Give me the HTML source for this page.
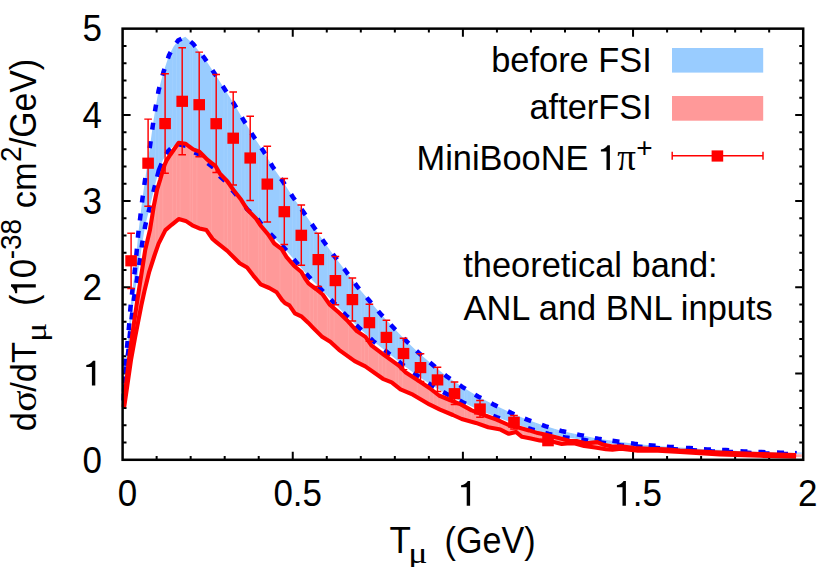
<!DOCTYPE html>
<html><head><meta charset="utf-8"><title>plot</title>
<style>html,body{margin:0;padding:0;background:#fff;}body{width:830px;height:567px;position:relative;overflow:hidden;font-family:"Liberation Sans",sans-serif;}</style>
</head><body>
<svg width="830" height="567" viewBox="0 0 830 567" style="position:absolute;left:0;top:0">
<path d="M156.63 459.8v-3.9M156.63 28.65v3.9M190.66 459.8v-3.9M190.66 28.65v3.9M224.69 459.8v-3.9M224.69 28.65v3.9M258.72 459.8v-3.9M258.72 28.65v3.9M292.75 459.8v-8.0M292.75 28.65v8.0M326.78 459.8v-3.9M326.78 28.65v3.9M360.81 459.8v-3.9M360.81 28.65v3.9M394.84 459.8v-3.9M394.84 28.65v3.9M428.87 459.8v-3.9M428.87 28.65v3.9M462.90 459.8v-8.0M462.90 28.65v8.0M496.93 459.8v-3.9M496.93 28.65v3.9M530.96 459.8v-3.9M530.96 28.65v3.9M564.99 459.8v-3.9M564.99 28.65v3.9M599.02 459.8v-3.9M599.02 28.65v3.9M633.05 459.8v-8.0M633.05 28.65v8.0M667.08 459.8v-3.9M667.08 28.65v3.9M701.11 459.8v-3.9M701.11 28.65v3.9M735.14 459.8v-3.9M735.14 28.65v3.9M769.17 459.8v-3.9M769.17 28.65v3.9M122.6 442.55h3.9M803.2 442.55h-3.9M122.6 425.31h3.9M803.2 425.31h-3.9M122.6 408.06h3.9M803.2 408.06h-3.9M122.6 390.82h3.9M803.2 390.82h-3.9M122.6 373.57h8.0M803.2 373.57h-8.0M122.6 356.32h3.9M803.2 356.32h-3.9M122.6 339.08h3.9M803.2 339.08h-3.9M122.6 321.83h3.9M803.2 321.83h-3.9M122.6 304.59h3.9M803.2 304.59h-3.9M122.6 287.34h8.0M803.2 287.34h-8.0M122.6 270.09h3.9M803.2 270.09h-3.9M122.6 252.85h3.9M803.2 252.85h-3.9M122.6 235.60h3.9M803.2 235.60h-3.9M122.6 218.36h3.9M803.2 218.36h-3.9M122.6 201.11h8.0M803.2 201.11h-8.0M122.6 183.86h3.9M803.2 183.86h-3.9M122.6 166.62h3.9M803.2 166.62h-3.9M122.6 149.37h3.9M803.2 149.37h-3.9M122.6 132.13h3.9M803.2 132.13h-3.9M122.6 114.88h8.0M803.2 114.88h-8.0M122.6 97.63h3.9M803.2 97.63h-3.9M122.6 80.39h3.9M803.2 80.39h-3.9M122.6 63.14h3.9M803.2 63.14h-3.9M122.6 45.90h3.9M803.2 45.90h-3.9" stroke="#000" stroke-width="2.0" fill="none"/>
<polygon points="123.3,407.0 123.7,397.0 124.3,380.0 125.5,362.3 127.3,344.4 129.0,326.7 130.4,308.3 132.3,291.2 134.8,270.9 136.6,252.3 138.2,234.3 140.3,217.0 142.4,199.1 144.8,181.5 147.6,162.6 150.2,144.7 152.7,126.2 155.5,108.0 158.6,90.5 163.4,72.3 169.0,55.2 173.5,46.8 178.4,40.2 185.3,36.8 193.2,43.9 204.7,58.4 214.3,73.1 224.6,88.9 234.5,104.7 243.7,120.3 253.3,136.1 263.3,150.9 272.5,166.5 282.9,181.5 293.0,197.2 303.5,212.1 313.8,227.0 324.3,242.3 334.9,256.9 346.1,271.5 357.0,286.2 369.0,300.3 380.5,313.8 393.1,327.3 406.2,340.9 419.1,353.2 432.6,364.7 447.4,376.9 462.6,387.1 478.0,396.5 494.4,404.9 511.1,412.9 527.9,419.9 545.2,426.1 562.7,431.3 580.5,435.1 598.2,438.8 615.9,441.3 634.4,443.8 652.1,445.5 670.3,446.9 689.4,448.1 707.4,449.4 725.6,450.1 743.9,451.4 761.9,452.1 780.5,452.7 796.1,453.1 796.1,454.2 784.5,453.9 766.0,453.4 748.0,452.8 729.5,451.9 711.5,451.3 693.5,450.3 674.5,449.2 656.5,448.0 639.0,446.8 620.5,445.3 602.5,442.8 584.7,440.1 566.1,437.6 548.7,433.9 531.3,429.2 514.0,423.4 496.5,417.1 479.6,410.2 462.8,402.2 446.2,393.8 431.4,385.0 416.4,374.9 401.4,363.8 387.3,352.3 373.0,340.9 358.9,327.6 345.7,315.1 333.2,302.0 320.8,289.1 308.5,276.3 296.0,261.9 284.2,247.9 268.1,231.5 261.0,223.6 256.0,216.8 247.3,209.4 241.2,200.4 233.5,191.6 227.3,183.2 220.2,176.5 215.5,168.9 211.7,166.3 207.0,162.6 202.9,158.1 199.4,154.5 193.2,152.0 188.8,148.6 185.7,145.8 178.5,144.2 173.0,146.5 168.1,151.1 163.0,160.0 158.8,170.3 154.2,188.6 149.3,209.0 145.2,225.7 142.1,244.0 139.7,261.6 137.0,279.5 134.1,297.5 131.9,316.0 129.8,334.8 128.2,352.4 125.6,370.0 124.2,388.0 123.3,407.0" fill="#99ccff"/>
<polygon points="123.6,407.0 126.0,385.0 128.9,360.0 131.8,338.0 136.6,305.0 145.2,250.0 150.0,229.7 154.0,205.0 157.0,190.0 160.1,180.0 162.3,172.3 164.6,164.8 166.8,160.0 170.3,154.7 174.3,149.0 178.7,142.8 185.7,143.7 188.8,146.3 193.2,149.4 199.4,151.6 202.9,155.1 207.0,159.4 211.7,163.1 215.5,166.0 220.2,174.0 227.3,181.2 233.5,190.0 241.2,199.8 247.3,209.6 256.0,218.5 261.0,226.0 268.1,234.3 274.3,243.5 281.7,249.1 286.6,257.1 294.0,265.7 301.4,272.0 304.8,278.0 308.5,283.4 315.9,289.0 322.7,294.5 329.5,304.4 339.4,313.0 348.0,321.3 356.8,331.1 365.5,336.9 371.7,345.7 382.9,354.1 398.8,365.6 405.8,372.6 418.2,380.5 429.4,388.0 439.0,395.5 449.8,400.0 460.8,404.4 471.7,410.4 485.8,415.8 496.6,419.6 507.5,424.5 520.3,428.0 529.1,430.4 537.9,433.1 545.9,434.8 554.7,437.0 563.5,439.2 570.0,441.0 576.6,441.0 586.4,443.4 597.2,442.1 603.8,444.8 612.4,446.5 620.9,446.3 634.4,448.1 649.6,448.9 664.8,449.2 680.0,450.6 700.0,451.5 720.0,452.6 760.0,454.0 796.1,455.0 796.1,456.7 760.0,455.8 720.0,454.4 680.0,451.9 658.0,450.6 637.8,450.6 620.9,448.7 612.4,449.7 605.9,449.2 595.1,447.5 584.2,445.9 575.0,443.4 570.0,443.3 561.7,444.0 552.9,441.8 539.7,440.4 530.9,438.6 522.0,436.8 515.9,431.9 508.8,433.8 500.5,429.6 488.2,427.3 475.9,422.9 461.7,419.0 452.9,415.0 440.0,409.7 429.4,404.4 412.9,394.7 400.5,389.4 391.7,382.3 382.9,378.8 365.3,366.4 354.7,361.1 339.0,349.8 330.3,341.8 321.7,336.4 312.9,327.6 308.2,322.7 301.8,316.7 294.9,313.3 289.4,305.4 285.0,303.2 282.0,300.0 276.7,292.3 269.3,288.0 260.7,284.3 253.3,275.6 247.1,267.6 239.7,263.3 227.3,250.9 216.0,241.8 212.6,239.0 206.4,230.1 199.4,228.4 192.3,225.3 185.7,220.9 178.7,219.1 171.6,224.8 165.4,230.1 158.6,243.6 154.3,256.0 149.2,271.8 144.4,291.2 141.4,305.0 135.0,338.0 131.0,360.0 127.4,385.0 124.2,407.0" fill="#ff9999"/>
<clipPath id="cf"><polygon points="123.3,407.0 123.7,397.0 124.3,380.0 125.5,362.3 127.3,344.4 129.0,326.7 130.4,308.3 132.3,291.2 134.8,270.9 136.6,252.3 138.2,234.3 140.3,217.0 142.4,199.1 144.8,181.5 147.6,162.6 150.2,144.7 152.7,126.2 155.5,108.0 158.6,90.5 163.4,72.3 169.0,55.2 173.5,46.8 178.4,40.2 185.3,36.8 193.2,43.9 204.7,58.4 214.3,73.1 224.6,88.9 234.5,104.7 243.7,120.3 253.3,136.1 263.3,150.9 272.5,166.5 282.9,181.5 293.0,197.2 303.5,212.1 313.8,227.0 324.3,242.3 334.9,256.9 346.1,271.5 357.0,286.2 369.0,300.3 380.5,313.8 393.1,327.3 406.2,340.9 419.1,353.2 432.6,364.7 447.4,376.9 462.6,387.1 478.0,396.5 494.4,404.9 511.1,412.9 527.9,419.9 545.2,426.1 562.7,431.3 580.5,435.1 598.2,438.8 615.9,441.3 634.4,443.8 652.1,445.5 670.3,446.9 689.4,448.1 707.4,449.4 725.6,450.1 743.9,451.4 761.9,452.1 780.5,452.7 796.1,453.1 796.1,454.2 784.5,453.9 766.0,453.4 748.0,452.8 729.5,451.9 711.5,451.3 693.5,450.3 674.5,449.2 656.5,448.0 639.0,446.8 620.5,445.3 602.5,442.8 584.7,440.1 566.1,437.6 548.7,433.9 531.3,429.2 514.0,423.4 496.5,417.1 479.6,410.2 462.8,402.2 446.2,393.8 431.4,385.0 416.4,374.9 401.4,363.8 387.3,352.3 373.0,340.9 358.9,327.6 345.7,315.1 333.2,302.0 320.8,289.1 308.5,276.3 296.0,261.9 284.2,247.9 268.1,231.5 261.0,223.6 256.0,216.8 247.3,209.4 241.2,200.4 233.5,191.6 227.3,183.2 220.2,176.5 215.5,168.9 211.7,166.3 207.0,162.6 202.9,158.1 199.4,154.5 193.2,152.0 188.8,148.6 185.7,145.8 178.5,144.2 173.0,146.5 168.1,151.1 163.0,160.0 158.8,170.3 154.2,188.6 149.3,209.0 145.2,225.7 142.1,244.0 139.7,261.6 137.0,279.5 134.1,297.5 131.9,316.0 129.8,334.8 128.2,352.4 125.6,370.0 124.2,388.0 123.3,407.0"/><polygon points="123.6,407.0 126.0,385.0 128.9,360.0 131.8,338.0 136.6,305.0 145.2,250.0 150.0,229.7 154.0,205.0 157.0,190.0 160.1,180.0 162.3,172.3 164.6,164.8 166.8,160.0 170.3,154.7 174.3,149.0 178.7,142.8 185.7,143.7 188.8,146.3 193.2,149.4 199.4,151.6 202.9,155.1 207.0,159.4 211.7,163.1 215.5,166.0 220.2,174.0 227.3,181.2 233.5,190.0 241.2,199.8 247.3,209.6 256.0,218.5 261.0,226.0 268.1,234.3 274.3,243.5 281.7,249.1 286.6,257.1 294.0,265.7 301.4,272.0 304.8,278.0 308.5,283.4 315.9,289.0 322.7,294.5 329.5,304.4 339.4,313.0 348.0,321.3 356.8,331.1 365.5,336.9 371.7,345.7 382.9,354.1 398.8,365.6 405.8,372.6 418.2,380.5 429.4,388.0 439.0,395.5 449.8,400.0 460.8,404.4 471.7,410.4 485.8,415.8 496.6,419.6 507.5,424.5 520.3,428.0 529.1,430.4 537.9,433.1 545.9,434.8 554.7,437.0 563.5,439.2 570.0,441.0 576.6,441.0 586.4,443.4 597.2,442.1 603.8,444.8 612.4,446.5 620.9,446.3 634.4,448.1 649.6,448.9 664.8,449.2 680.0,450.6 700.0,451.5 720.0,452.6 760.0,454.0 796.1,455.0 796.1,456.7 760.0,455.8 720.0,454.4 680.0,451.9 658.0,450.6 637.8,450.6 620.9,448.7 612.4,449.7 605.9,449.2 595.1,447.5 584.2,445.9 575.0,443.4 570.0,443.3 561.7,444.0 552.9,441.8 539.7,440.4 530.9,438.6 522.0,436.8 515.9,431.9 508.8,433.8 500.5,429.6 488.2,427.3 475.9,422.9 461.7,419.0 452.9,415.0 440.0,409.7 429.4,404.4 412.9,394.7 400.5,389.4 391.7,382.3 382.9,378.8 365.3,366.4 354.7,361.1 339.0,349.8 330.3,341.8 321.7,336.4 312.9,327.6 308.2,322.7 301.8,316.7 294.9,313.3 289.4,305.4 285.0,303.2 282.0,300.0 276.7,292.3 269.3,288.0 260.7,284.3 253.3,275.6 247.1,267.6 239.7,263.3 227.3,250.9 216.0,241.8 212.6,239.0 206.4,230.1 199.4,228.4 192.3,225.3 185.7,220.9 178.7,219.1 171.6,224.8 165.4,230.1 158.6,243.6 154.3,256.0 149.2,271.8 144.4,291.2 141.4,305.0 135.0,338.0 131.0,360.0 127.4,385.0 124.2,407.0"/></clipPath>
<path d="M128.3 30V460M142.8 30V460M155.4 30V460M158.9 30V460M162.8 30V460M172.7 30V460M176.4 30V460M180.1 30V460M190.1 30V460M192.6 30V460M196.9 30V460M211.4 30V460M224.0 30V460M227.5 30V460M231.4 30V460M241.3 30V460M245.0 30V460M248.7 30V460M258.7 30V460M261.2 30V460M265.5 30V460M280.0 30V460M292.6 30V460M296.1 30V460M300.0 30V460M309.9 30V460M313.6 30V460M317.3 30V460M327.3 30V460M329.8 30V460M334.1 30V460M348.6 30V460M361.2 30V460M364.7 30V460M368.6 30V460M378.5 30V460M382.2 30V460M385.9 30V460M395.9 30V460M398.4 30V460M402.7 30V460M417.2 30V460M429.8 30V460M433.3 30V460M437.2 30V460M447.1 30V460M450.8 30V460M454.5 30V460M464.5 30V460M467.0 30V460M471.3 30V460M485.8 30V460M498.4 30V460M501.9 30V460M505.8 30V460M515.7 30V460M519.4 30V460M523.1 30V460M533.1 30V460M535.6 30V460M539.9 30V460M554.4 30V460M567.0 30V460M570.5 30V460M574.4 30V460M584.3 30V460M588.0 30V460M591.7 30V460M601.7 30V460M604.2 30V460M608.5 30V460M623.0 30V460M635.6 30V460M639.1 30V460M643.0 30V460M652.9 30V460M656.6 30V460M660.3 30V460M670.3 30V460M672.8 30V460M677.1 30V460M691.6 30V460" stroke="#fff" stroke-width="1" opacity="0.09" fill="none" clip-path="url(#cf)"/>
<rect x="672" y="48" width="91.2" height="24.6" fill="#99ccff"/>
<rect x="672" y="96" width="91.2" height="24.7" fill="#ff9999"/>
<rect x="796" y="452.3" width="5.8" height="2" fill="#b3d9ff"/><rect x="796" y="454.3" width="5.8" height="2.8" fill="#ffaaaa"/><rect x="795" y="450.9" width="1.8" height="2.6" fill="#0000ff"/>
<polyline points="123.3,407.0 123.7,397.0 124.3,380.0 125.5,362.3 127.3,344.4 129.0,326.7 130.4,308.3 132.3,291.2 134.8,270.9 136.6,252.3 138.2,234.3 140.3,217.0 142.4,199.1 144.8,181.5 147.6,162.6 150.2,144.7 152.7,126.2 155.5,108.0 158.6,90.5 163.4,72.3 169.0,55.2 173.5,46.8 178.4,40.2 185.3,36.8 193.2,43.9 204.7,58.4 214.3,73.1 224.6,88.9 234.5,104.7 243.7,120.3 253.3,136.1 263.3,150.9 272.5,166.5 282.9,181.5 293.0,197.2 303.5,212.1 313.8,227.0 324.3,242.3 334.9,256.9 346.1,271.5 357.0,286.2 369.0,300.3 380.5,313.8 393.1,327.3 406.2,340.9 419.1,353.2 432.6,364.7 447.4,376.9 462.6,387.1 478.0,396.5 494.4,404.9 511.1,412.9 527.9,419.9 545.2,426.1 562.7,431.3 580.5,435.1 598.2,438.8 615.9,441.3 634.4,443.8 652.1,445.5 670.3,446.9 689.4,448.1 707.4,449.4 725.6,450.1 743.9,451.4 761.9,452.1 780.5,452.7 796.1,453.1" stroke="#0000ff" stroke-width="4.5" fill="none" stroke-linejoin="round" stroke-dasharray="0 6.51 7.00 10.01 7.00 10.74 7.00 10.99 7.00 10.78 7.00 11.45 7.00 10.21 7.00 13.45 7.00 11.69 7.00 11.07 7.00 10.43 7.00 11.02 7.00 10.76 7.00 12.11 7.00 11.09 7.00 11.67 7.00 11.41 7.00 10.77 7.00 11.82 7.00 10.99 7.00 10.75 7.00 11.31 7.00 11.51 7.00 10.56 7.00 11.86 7.00 11.65 7.00 11.11 7.00 11.49 7.00 10.86 7.00 11.11 7.00 11.25 7.00 11.67 7.00 11.23 7.00 11.11 7.00 11.56 7.00 11.04 7.00 11.40 7.00 11.30 7.00 11.52 7.00 10.73 7.00 11.47 7.00 11.88 7.00 10.82 7.00 10.73 7.00 12.18 7.00 11.31 7.00 11.04 7.00 11.43 7.00 11.52 7.00 11.20 7.00 11.38 7.00 11.26 7.00 11.20 7.00 11.08 7.00 10.88 7.00 11.67 7.00 10.78 7.00 11.25 7.00 12.14 7.00 11.05 7.00 11.21 7.00 11.35 7.00 11.01 7.00 11.61 7.00 5000.00 0.00"/>
<polyline points="123.3,407.0 124.2,388.0 125.6,370.0 128.2,352.4 129.8,334.8 131.9,316.0 134.1,297.5 137.0,279.5 139.7,261.6 142.1,244.0 145.2,225.7 149.3,209.0 154.2,188.6 158.8,170.3 163.0,160.0 168.1,151.1 173.0,146.5 178.5,144.2 185.7,145.8 188.8,148.6 193.2,152.0 199.4,154.5 202.9,158.1 207.0,162.6 211.7,166.3 215.5,168.9 220.2,176.5 227.3,183.2 233.5,191.6 241.2,200.4 247.3,209.4 256.0,216.8 261.0,223.6 268.1,231.5 284.2,247.9 296.0,261.9 308.5,276.3 320.8,289.1 333.2,302.0 345.7,315.1 358.9,327.6 373.0,340.9 387.3,352.3 401.4,363.8 416.4,374.9 431.4,385.0 446.2,393.8 462.8,402.2 479.6,410.2 496.5,417.1 514.0,423.4 531.3,429.2 548.7,433.9 566.1,437.6 584.7,440.1 602.5,442.8 620.5,445.3 639.0,446.8 656.5,448.0 674.5,449.2 693.5,450.3 711.5,451.3 729.5,451.9 748.0,452.8 766.0,453.4 784.5,453.9 796.1,454.2" stroke="#0000ff" stroke-width="4.5" fill="none" stroke-linejoin="round" stroke-dasharray="0 15.52 7.00 11.05 7.00 10.79 7.00 10.67 7.00 11.92 7.00 11.63 7.00 11.23 7.00 11.10 7.00 10.76 7.00 11.56 7.00 10.20 7.00 13.98 7.00 8.69 7.00 0.01 7.00 10.55 7.00 9.51 7.00 11.04 7.00 10.52 7.00 11.08 7.00 11.44 7.00 14.79 7.00 9.92 7.00 12.79 7.00 9.25 7.00 11.31 7.00 12.07 7.00 10.75 7.00 10.89 7.00 11.11 7.00 11.18 7.00 12.38 7.00 11.29 7.00 11.20 7.00 11.66 7.00 11.08 7.00 10.22 7.00 11.60 7.00 11.61 7.00 11.25 7.00 11.60 7.00 11.25 7.00 11.02 7.00 10.79 7.00 11.77 7.00 11.00 7.00 11.17 7.00 11.56 7.00 10.54 7.00 11.04 7.00 12.03 7.00 11.03 7.00 11.01 7.00 11.52 7.00 11.01 7.00 11.51 7.00 5000.00 0.00"/>
<polyline points="123.6,407.0 126.0,385.0 128.9,360.0 131.8,338.0 136.6,305.0 145.2,250.0 150.0,229.7 154.0,205.0 157.0,190.0 160.1,180.0 162.3,172.3 164.6,164.8 166.8,160.0 170.3,154.7 174.3,149.0 178.7,142.8 185.7,143.7 188.8,146.3 193.2,149.4 199.4,151.6 202.9,155.1 207.0,159.4 211.7,163.1 215.5,166.0 220.2,174.0 227.3,181.2 233.5,190.0 241.2,199.8 247.3,209.6 256.0,218.5 261.0,226.0 268.1,234.3 274.3,243.5 281.7,249.1 286.6,257.1 294.0,265.7 301.4,272.0 304.8,278.0 308.5,283.4 315.9,289.0 322.7,294.5 329.5,304.4 339.4,313.0 348.0,321.3 356.8,331.1 365.5,336.9 371.7,345.7 382.9,354.1 398.8,365.6 405.8,372.6 418.2,380.5 429.4,388.0 439.0,395.5 449.8,400.0 460.8,404.4 471.7,410.4 485.8,415.8 496.6,419.6 507.5,424.5 520.3,428.0 529.1,430.4 537.9,433.1 545.9,434.8 554.7,437.0 563.5,439.2 570.0,441.0 576.6,441.0 586.4,443.4 597.2,442.1 603.8,444.8 612.4,446.5 620.9,446.3 634.4,448.1 649.6,448.9 664.8,449.2 680.0,450.6 700.0,451.5 720.0,452.6 760.0,454.0 796.1,455.0" stroke="#ff0000" stroke-width="4.1" fill="none" stroke-linejoin="round" stroke-linecap="butt"/>
<polyline points="124.2,407.0 127.4,385.0 131.0,360.0 135.0,338.0 141.4,305.0 144.4,291.2 149.2,271.8 154.3,256.0 158.6,243.6 165.4,230.1 171.6,224.8 178.7,219.1 185.7,220.9 192.3,225.3 199.4,228.4 206.4,230.1 212.6,239.0 216.0,241.8 227.3,250.9 239.7,263.3 247.1,267.6 253.3,275.6 260.7,284.3 269.3,288.0 276.7,292.3 282.0,300.0 285.0,303.2 289.4,305.4 294.9,313.3 301.8,316.7 308.2,322.7 312.9,327.6 321.7,336.4 330.3,341.8 339.0,349.8 354.7,361.1 365.3,366.4 382.9,378.8 391.7,382.3 400.5,389.4 412.9,394.7 429.4,404.4 440.0,409.7 452.9,415.0 461.7,419.0 475.9,422.9 488.2,427.3 500.5,429.6 508.8,433.8 515.9,431.9 522.0,436.8 530.9,438.6 539.7,440.4 552.9,441.8 561.7,444.0 570.0,443.3 575.0,443.4 584.2,445.9 595.1,447.5 605.9,449.2 612.4,449.7 620.9,448.7 637.8,450.6 658.0,450.6 680.0,451.9 720.0,454.4 760.0,455.8 796.1,456.7" stroke="#ff0000" stroke-width="4.1" fill="none" stroke-linejoin="round" stroke-linecap="butt"/>
<path d="M131.1 233.3V288.4M127.3 233.3h7.6M127.3 288.4h7.6" stroke="#ff0000" stroke-width="1.45" fill="none"/>
<rect x="125.3" y="255.2" width="11.6" height="11.2" fill="#ff0000"/>
<path d="M148.1 119.1V206.3M144.3 119.1h7.6M144.3 206.3h7.6" stroke="#ff0000" stroke-width="1.45" fill="none"/>
<rect x="142.3" y="157.6" width="11.6" height="11.2" fill="#ff0000"/>
<path d="M165.1 73.8V173.3M161.3 73.8h7.6M161.3 173.3h7.6" stroke="#ff0000" stroke-width="1.45" fill="none"/>
<rect x="159.3" y="118.0" width="11.6" height="11.2" fill="#ff0000"/>
<path d="M182.2 47.8V154.8M178.4 47.8h7.6M178.4 154.8h7.6" stroke="#ff0000" stroke-width="1.45" fill="none"/>
<rect x="176.4" y="95.7" width="11.6" height="11.2" fill="#ff0000"/>
<path d="M199.2 52.1V156.8M195.4 52.1h7.6M195.4 156.8h7.6" stroke="#ff0000" stroke-width="1.45" fill="none"/>
<rect x="193.4" y="99.1" width="11.6" height="11.2" fill="#ff0000"/>
<path d="M216.2 74.5V172.5M212.4 74.5h7.6M212.4 172.5h7.6" stroke="#ff0000" stroke-width="1.45" fill="none"/>
<rect x="210.4" y="118.1" width="11.6" height="11.2" fill="#ff0000"/>
<path d="M233.2 92.0V185.0M229.4 92.0h7.6M229.4 185.0h7.6" stroke="#ff0000" stroke-width="1.45" fill="none"/>
<rect x="227.4" y="132.6" width="11.6" height="11.2" fill="#ff0000"/>
<path d="M250.2 116.2V200.5M246.4 116.2h7.6M246.4 200.5h7.6" stroke="#ff0000" stroke-width="1.45" fill="none"/>
<rect x="244.4" y="152.4" width="11.6" height="11.2" fill="#ff0000"/>
<path d="M267.3 146.2V222.0M263.5 146.2h7.6M263.5 222.0h7.6" stroke="#ff0000" stroke-width="1.45" fill="none"/>
<rect x="261.5" y="178.5" width="11.6" height="11.2" fill="#ff0000"/>
<path d="M284.3 178.4V244.4M280.5 178.4h7.6M280.5 244.4h7.6" stroke="#ff0000" stroke-width="1.45" fill="none"/>
<rect x="278.5" y="206.1" width="11.6" height="11.2" fill="#ff0000"/>
<path d="M301.3 204.9V265.3M297.5 204.9h7.6M297.5 265.3h7.6" stroke="#ff0000" stroke-width="1.45" fill="none"/>
<rect x="295.5" y="229.7" width="11.6" height="11.2" fill="#ff0000"/>
<path d="M318.3 233.2V286.4M314.5 233.2h7.6M314.5 286.4h7.6" stroke="#ff0000" stroke-width="1.45" fill="none"/>
<rect x="312.5" y="254.0" width="11.6" height="11.2" fill="#ff0000"/>
<path d="M335.4 256.5V304.7M331.6 256.5h7.6M331.6 304.7h7.6" stroke="#ff0000" stroke-width="1.45" fill="none"/>
<rect x="329.6" y="275.0" width="11.6" height="11.2" fill="#ff0000"/>
<path d="M352.4 277.9V320.9M348.6 277.9h7.6M348.6 320.9h7.6" stroke="#ff0000" stroke-width="1.45" fill="none"/>
<rect x="346.6" y="294.0" width="11.6" height="11.2" fill="#ff0000"/>
<path d="M369.4 304.3V341.2M365.6 304.3h7.6M365.6 341.2h7.6" stroke="#ff0000" stroke-width="1.45" fill="none"/>
<rect x="363.6" y="317.1" width="11.6" height="11.2" fill="#ff0000"/>
<path d="M386.4 320.2V355.5M382.6 320.2h7.6M382.6 355.5h7.6" stroke="#ff0000" stroke-width="1.45" fill="none"/>
<rect x="380.6" y="331.8" width="11.6" height="11.2" fill="#ff0000"/>
<path d="M403.5 338.2V369.6M399.7 338.2h7.6M399.7 369.6h7.6" stroke="#ff0000" stroke-width="1.45" fill="none"/>
<rect x="397.7" y="347.9" width="11.6" height="11.2" fill="#ff0000"/>
<path d="M420.5 353.7V381.4M416.7 353.7h7.6M416.7 381.4h7.6" stroke="#ff0000" stroke-width="1.45" fill="none"/>
<rect x="414.7" y="362.0" width="11.6" height="11.2" fill="#ff0000"/>
<path d="M437.5 367.3V391.5M433.7 367.3h7.6M433.7 391.5h7.6" stroke="#ff0000" stroke-width="1.45" fill="none"/>
<rect x="431.7" y="374.3" width="11.6" height="11.2" fill="#ff0000"/>
<path d="M454.5 382.0V404.4M450.7 382.0h7.6M450.7 404.4h7.6" stroke="#ff0000" stroke-width="1.45" fill="none"/>
<rect x="448.7" y="388.1" width="11.6" height="11.2" fill="#ff0000"/>
<path d="M480.0 400.5V417.3M476.2 400.5h7.6M476.2 417.3h7.6" stroke="#ff0000" stroke-width="1.45" fill="none"/>
<rect x="474.2" y="403.4" width="11.6" height="11.2" fill="#ff0000"/>
<path d="M514.0 415.5V429.0M510.2 415.5h7.6M510.2 429.0h7.6" stroke="#ff0000" stroke-width="1.45" fill="none"/>
<rect x="508.2" y="416.7" width="11.6" height="11.2" fill="#ff0000"/>
<path d="M548.0 436.5V445.0M544.2 436.5h7.6M544.2 445.0h7.6" stroke="#ff0000" stroke-width="1.45" fill="none"/>
<rect x="542.2" y="435.1" width="11.6" height="11.2" fill="#ff0000"/>
<path d="M672.2 155.8H763M672.2 151.8v8M763 151.8v8" stroke="#ff0000" stroke-width="1.45" fill="none"/>
<rect x="711.6" y="150.4" width="11.6" height="11.2" fill="#ff0000"/>
<rect x="122.6" y="28.65" width="680.60" height="431.15" fill="none" stroke="#000" stroke-width="2.5"/>
<text transform="translate(127.40,505.80) scale(1.0,1.045)" text-anchor="middle" font-family="Liberation Sans, sans-serif" font-size="35" fill="#000">0</text>
<text transform="translate(297.70,505.80) scale(1.0,1.045)" text-anchor="middle" font-family="Liberation Sans, sans-serif" font-size="35" fill="#000">0.5</text>
<path transform="translate(470.10,505.80) scale(1.0)" d="M0 0H-3.4V-18.6H-9V-20.6Q-4.3-21.2 -2.3-24.8H0Z" fill="#000"/>
<path transform="translate(625.90,505.80) scale(1.0)" d="M0 0H-3.4V-18.6H-9V-20.6Q-4.3-21.2 -2.3-24.8H0Z" fill="#000"/>
<text transform="translate(632.70,505.80) scale(1.0,1.045)" text-anchor="start" font-family="Liberation Sans, sans-serif" font-size="35" fill="#000">.5</text>
<text transform="translate(807.70,505.80) scale(1.0,1.045)" text-anchor="middle" font-family="Liberation Sans, sans-serif" font-size="35" fill="#000">2</text>
<text transform="translate(102.00,472.50) scale(1.0,1.045)" text-anchor="end" font-family="Liberation Sans, sans-serif" font-size="35" fill="#000">0</text>
<path transform="translate(95.30,385.57) scale(1.0)" d="M0 0H-3.4V-18.6H-9V-20.6Q-4.3-21.2 -2.3-24.8H0Z" fill="#000"/>
<text transform="translate(102.00,300.04) scale(1.0,1.045)" text-anchor="end" font-family="Liberation Sans, sans-serif" font-size="35" fill="#000">2</text>
<text transform="translate(102.00,213.81) scale(1.0,1.045)" text-anchor="end" font-family="Liberation Sans, sans-serif" font-size="35" fill="#000">3</text>
<text transform="translate(102.00,127.58) scale(1.0,1.045)" text-anchor="end" font-family="Liberation Sans, sans-serif" font-size="35" fill="#000">4</text>
<text transform="translate(102.00,41.35) scale(1.0,1.045)" text-anchor="end" font-family="Liberation Sans, sans-serif" font-size="35" fill="#000">5</text>
<text transform="translate(651.80,71.90) scale(1,1.03)" text-anchor="end" font-family="Liberation Sans, sans-serif" font-size="34.4" fill="#000">before FSI</text>
<text transform="translate(651.80,118.60) scale(1,1.03)" text-anchor="end" font-family="Liberation Sans, sans-serif" font-size="34.4" fill="#000">afterFSI</text>
<text transform="translate(588.50,170.00) scale(1,1.03)" text-anchor="end" font-family="Liberation Sans, sans-serif" font-size="34.4" fill="#000">MiniBooNE</text>
<path transform="translate(609.90,170.00) scale(1.0)" d="M0 0H-3.4V-18.6H-9V-20.6Q-4.3-21.2 -2.3-24.8H0Z" fill="#000"/>
<text transform="translate(617.20,170.40) scale(1,1)" text-anchor="start" font-family="Liberation Serif, serif" font-size="37" fill="#000">π</text>
<text transform="translate(636.20,157.30) scale(1,1)" text-anchor="start" font-family="Liberation Sans, sans-serif" font-size="28" fill="#000">+</text>
<text transform="translate(463.30,276.80) scale(1,1.03)" text-anchor="start" font-family="Liberation Sans, sans-serif" font-size="34.4" fill="#000">theoretical band:</text>
<text transform="translate(463.60,320.00) scale(1,1.03)" text-anchor="start" font-family="Liberation Sans, sans-serif" font-size="34.4" fill="#000">ANL and BNL inputs</text>
<text transform="translate(389.60,553.30) scale(1,1.03)" text-anchor="start" font-family="Liberation Sans, sans-serif" font-size="35" fill="#000">T</text>
<text transform="translate(408.30,563.00) scale(1.2,1)" text-anchor="start" font-family="Liberation Serif, serif" font-size="30" fill="#000">μ</text>
<text transform="translate(444.60,553.30) scale(0.975,1.03)" text-anchor="start" font-family="Liberation Sans, sans-serif" font-size="35" fill="#000">(GeV)</text>
<g transform="translate(35.8,430.3) rotate(-90)"><text transform="translate(-1.00,0.00) scale(1.0,1.03)" font-family="Liberation Sans, sans-serif" font-size="34.4" fill="#000">d</text><text transform="translate(18.60,0.00) scale(1.1,1)" font-family="Liberation Serif, serif" font-size="36" fill="#000">σ</text><text transform="translate(38.60,0.00) scale(1.0,1.03)" font-family="Liberation Sans, sans-serif" font-size="34.4" fill="#000">/dT</text><text transform="translate(88.30,10.00) scale(1.2,1)" font-family="Liberation Serif, serif" font-size="30" fill="#000">μ</text><text transform="translate(124.50,0.00) scale(0.95,1.03)" font-family="Liberation Sans, sans-serif" font-size="35" fill="#000">(</text><path transform="translate(146.1,0)" d="M0 0H-3.4V-18.6H-9V-20.6Q-4.3-21.2 -2.3-24.8H0Z" fill="#000"/><text transform="translate(152.00,0.00) scale(1,1.045)" font-family="Liberation Sans, sans-serif" font-size="35" fill="#000">0</text><text transform="translate(171.00,-14.50) scale(1,1.045)" font-family="Liberation Sans, sans-serif" font-size="28" fill="#000">-38</text><text transform="translate(222.00,0.00) scale(1.0,1.03)" font-family="Liberation Sans, sans-serif" font-size="34.4" fill="#000">cm</text><text transform="translate(268.40,-14.50) scale(1,1.045)" font-family="Liberation Sans, sans-serif" font-size="28" fill="#000">2</text><text transform="translate(283.20,0.00) scale(0.965,1.03)" font-family="Liberation Sans, sans-serif" font-size="35" fill="#000">/GeV)</text></g>
</svg>
</body></html>
